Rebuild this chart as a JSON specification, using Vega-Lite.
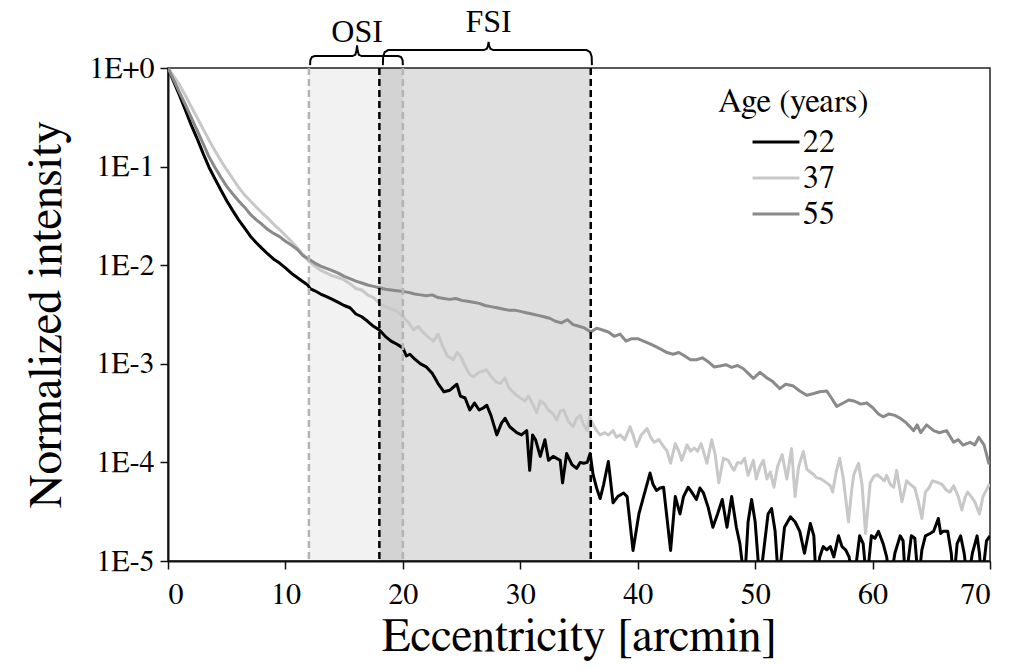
{
"$schema": "https://vega.github.io/schema/vega-lite/v6.json",
"width": 822, "height": 493,
"autosize": "none",
"padding": {"left": 168, "top": 68, "right": 21, "bottom": 108},
"background": "white",
"config": {
  "view": {"stroke": "#222", "strokeWidth": 1.5},
  "axis": {"grid": false, "domainColor": "#111", "domainWidth": 2, "tickColor": "#111", "tickWidth": 1.5, "tickSize": 8,
           "labelColor": "#000", "labelFontSize": 30, "labelFont": "FreeSerif",
           "titleColor": "#000", "titleFontWeight": "normal", "titleFontSize": 47, "titleFont": "FreeSerif"}
},
"datasets": {
  "regions": [
    {"region": "OSI", "start": 12, "end": 20, "mid": 16.1},
    {"region": "FSI", "start": 18, "end": 36, "mid": 27.3}
  ],
  "braces": [
    {"region": "OSI", "ecc": 12.1, "y": 1.07}, {"region": "OSI", "ecc": 12.12, "y": 1.2}, {"region": "OSI", "ecc": 12.25, "y": 1.29}, {"region": "OSI", "ecc": 12.5, "y": 1.32},
    {"region": "OSI", "ecc": 15.7, "y": 1.32}, {"region": "OSI", "ecc": 15.95, "y": 1.36}, {"region": "OSI", "ecc": 16.05, "y": 1.5}, {"region": "OSI", "ecc": 16.1, "y": 1.7},
    {"region": "OSI", "ecc": 16.15, "y": 1.5}, {"region": "OSI", "ecc": 16.25, "y": 1.36}, {"region": "OSI", "ecc": 16.5, "y": 1.32}, {"region": "OSI", "ecc": 19.6, "y": 1.32},
    {"region": "OSI", "ecc": 19.85, "y": 1.29}, {"region": "OSI", "ecc": 19.98, "y": 1.2}, {"region": "OSI", "ecc": 20.0, "y": 1.07},
    {"region": "FSI", "ecc": 18.3, "y": 1.07}, {"region": "FSI", "ecc": 18.32, "y": 1.3}, {"region": "FSI", "ecc": 18.45, "y": 1.45}, {"region": "FSI", "ecc": 18.75, "y": 1.52},
    {"region": "FSI", "ecc": 26.9, "y": 1.52}, {"region": "FSI", "ecc": 27.15, "y": 1.57}, {"region": "FSI", "ecc": 27.25, "y": 1.68}, {"region": "FSI", "ecc": 27.3, "y": 1.84},
    {"region": "FSI", "ecc": 27.35, "y": 1.68}, {"region": "FSI", "ecc": 27.45, "y": 1.57}, {"region": "FSI", "ecc": 27.7, "y": 1.52}, {"region": "FSI", "ecc": 35.65, "y": 1.52},
    {"region": "FSI", "ecc": 35.95, "y": 1.45}, {"region": "FSI", "ecc": 36.08, "y": 1.3}, {"region": "FSI", "ecc": 36.1, "y": 1.07}
  ],
  "curves": [
{"age":"22","ecc":0,"intensity":1},{"age":"22","ecc":0.5,"intensity":0.72},{"age":"22","ecc":1,"intensity":0.52},{"age":"22","ecc":1.5,"intensity":0.37},{"age":"22","ecc":2,"intensity":0.26},{"age":"22","ecc":2.5,"intensity":0.19},{"age":"22","ecc":3,"intensity":0.135},{"age":"22","ecc":3.5,"intensity":0.098},{"age":"22","ecc":4,"intensity":0.075},{"age":"22","ecc":4.5,"intensity":0.058},{"age":"22","ecc":5,"intensity":0.045},{"age":"22","ecc":5.5,"intensity":0.036},{"age":"22","ecc":6,"intensity":0.029},{"age":"22","ecc":6.5,"intensity":0.024},{"age":"22","ecc":7,"intensity":0.0198},{"age":"22","ecc":7.5,"intensity":0.017},{"age":"22","ecc":8,"intensity":0.0148},{"age":"22","ecc":8.5,"intensity":0.013},{"age":"22","ecc":9,"intensity":0.0115},{"age":"22","ecc":9.5,"intensity":0.0105},{"age":"22","ecc":10,"intensity":0.0094},{"age":"22","ecc":10.5,"intensity":0.0083},{"age":"22","ecc":11,"intensity":0.0075},{"age":"22","ecc":11.5,"intensity":0.0068},{"age":"22","ecc":11.9,"intensity":0.0063},{"age":"22","ecc":12.1,"intensity":0.0058},{"age":"22","ecc":12.5,"intensity":0.0055},{"age":"22","ecc":13,"intensity":0.0051},{"age":"22","ecc":13.5,"intensity":0.0048},{"age":"22","ecc":14,"intensity":0.0045},{"age":"22","ecc":14.5,"intensity":0.0042},{"age":"22","ecc":15,"intensity":0.0039},{"age":"22","ecc":15.5,"intensity":0.0037},{"age":"22","ecc":16,"intensity":0.0032},{"age":"22","ecc":16.5,"intensity":0.003},{"age":"22","ecc":17,"intensity":0.0027},{"age":"22","ecc":17.5,"intensity":0.0024},{"age":"22","ecc":18,"intensity":0.0022},{"age":"22","ecc":18.5,"intensity":0.0019},{"age":"22","ecc":19,"intensity":0.0017},{"age":"22","ecc":19.5,"intensity":0.00158},{"age":"22","ecc":20,"intensity":0.00145},{"age":"22","ecc":20.3,"intensity":0.0012},{"age":"22","ecc":20.6,"intensity":0.00125},{"age":"22","ecc":21,"intensity":0.00112},{"age":"22","ecc":21.5,"intensity":0.001},{"age":"22","ecc":22,"intensity":0.00093},{"age":"22","ecc":22.5,"intensity":0.0008},{"age":"22","ecc":23,"intensity":0.00063},{"age":"22","ecc":23.5,"intensity":0.00052},{"age":"22","ecc":24,"intensity":0.00054},{"age":"22","ecc":24.6,"intensity":0.00062},{"age":"22","ecc":24.9,"intensity":0.00047},{"age":"22","ecc":25.3,"intensity":0.00045},{"age":"22","ecc":25.7,"intensity":0.00034},{"age":"22","ecc":26.1,"intensity":0.0004},{"age":"22","ecc":26.5,"intensity":0.00034},{"age":"22","ecc":26.9,"intensity":0.00036},{"age":"22","ecc":27.15,"intensity":0.00038},{"age":"22","ecc":27.5,"intensity":0.0003},{"age":"22","ecc":28,"intensity":0.00019},{"age":"22","ecc":28.4,"intensity":0.00025},{"age":"22","ecc":28.7,"intensity":0.00028},{"age":"22","ecc":29.1,"intensity":0.00023},{"age":"22","ecc":29.7,"intensity":0.0002},{"age":"22","ecc":30.1,"intensity":0.00019},{"age":"22","ecc":30.55,"intensity":0.00021},{"age":"22","ecc":30.8,"intensity":8.3e-5},{"age":"22","ecc":31.05,"intensity":0.00019},{"age":"22","ecc":31.3,"intensity":0.00017},{"age":"22","ecc":31.7,"intensity":0.000115},{"age":"22","ecc":32.1,"intensity":0.00017},{"age":"22","ecc":32.4,"intensity":0.000105},{"age":"22","ecc":32.8,"intensity":0.000115},{"age":"22","ecc":33.1,"intensity":0.00011},{"age":"22","ecc":33.4,"intensity":0.000105},{"age":"22","ecc":33.6,"intensity":6.2e-5},{"age":"22","ecc":33.95,"intensity":0.000123},{"age":"22","ecc":34.4,"intensity":9.5e-5},{"age":"22","ecc":34.8,"intensity":8.7e-5},{"age":"22","ecc":35.1,"intensity":0.0001},{"age":"22","ecc":35.4,"intensity":9.8e-5},{"age":"22","ecc":35.7,"intensity":0.0001},{"age":"22","ecc":35.95,"intensity":0.000123},{"age":"22","ecc":36.2,"intensity":7.5e-5},{"age":"22","ecc":36.5,"intensity":5.5e-5},{"age":"22","ecc":36.8,"intensity":4.3e-5},{"age":"22","ecc":37.1,"intensity":6e-5},{"age":"22","ecc":37.5,"intensity":0.000102},{"age":"22","ecc":37.9,"intensity":3.9e-5},{"age":"22","ecc":38.3,"intensity":4.5e-5},{"age":"22","ecc":38.8,"intensity":4.9e-5},{"age":"22","ecc":39.1,"intensity":4.5e-5},{"age":"22","ecc":39.6,"intensity":1.28e-5},{"age":"22","ecc":40.1,"intensity":3e-5},{"age":"22","ecc":40.5,"intensity":4.5e-5},{"age":"22","ecc":41.05,"intensity":7.8e-5},{"age":"22","ecc":41.3,"intensity":6e-5},{"age":"22","ecc":41.6,"intensity":5.2e-5},{"age":"22","ecc":41.9,"intensity":5.5e-5},{"age":"22","ecc":42.2,"intensity":5.6e-5},{"age":"22","ecc":42.8,"intensity":1.28e-5},{"age":"22","ecc":43.2,"intensity":4.5e-5},{"age":"22","ecc":43.6,"intensity":3e-5},{"age":"22","ecc":43.9,"intensity":4.5e-5},{"age":"22","ecc":44.3,"intensity":5.6e-5},{"age":"22","ecc":44.6,"intensity":5e-5},{"age":"22","ecc":45,"intensity":4.2e-5},{"age":"22","ecc":45.3,"intensity":5.5e-5},{"age":"22","ecc":45.6,"intensity":4.9e-5},{"age":"22","ecc":46,"intensity":3.5e-5},{"age":"22","ecc":46.4,"intensity":2.2e-5},{"age":"22","ecc":46.8,"intensity":3e-5},{"age":"22","ecc":47.2,"intensity":4.2e-5},{"age":"22","ecc":47.6,"intensity":2.2e-5},{"age":"22","ecc":48,"intensity":4.5e-5},{"age":"22","ecc":48.4,"intensity":2.2e-5},{"age":"22","ecc":48.7,"intensity":1.5e-5},{"age":"22","ecc":49.1,"intensity":6e-6},{"age":"22","ecc":49.4,"intensity":2.5e-5},{"age":"22","ecc":49.7,"intensity":4.2e-5},{"age":"22","ecc":50,"intensity":2.5e-5},{"age":"22","ecc":50.4,"intensity":6e-6},{"age":"22","ecc":50.8,"intensity":1.5e-5},{"age":"22","ecc":51.1,"intensity":3e-5},{"age":"22","ecc":51.4,"intensity":3.4e-5},{"age":"22","ecc":51.7,"intensity":2e-5},{"age":"22","ecc":52,"intensity":6e-6},{"age":"22","ecc":52.5,"intensity":2.2e-5},{"age":"22","ecc":53,"intensity":2.8e-5},{"age":"22","ecc":53.4,"intensity":2.5e-5},{"age":"22","ecc":53.8,"intensity":2e-5},{"age":"22","ecc":54.2,"intensity":1.2e-5},{"age":"22","ecc":54.7,"intensity":2.4e-5},{"age":"22","ecc":55,"intensity":1.8e-5},{"age":"22","ecc":55.2,"intensity":6e-6},{"age":"22","ecc":55.5,"intensity":1.1e-5},{"age":"22","ecc":55.8,"intensity":1.4e-5},{"age":"22","ecc":56.1,"intensity":1.3e-5},{"age":"22","ecc":56.4,"intensity":1.4e-5},{"age":"22","ecc":56.7,"intensity":1.1e-5},{"age":"22","ecc":57.1,"intensity":1.8e-5},{"age":"22","ecc":57.4,"intensity":1.4e-5},{"age":"22","ecc":57.7,"intensity":1.3e-5},{"age":"22","ecc":58,"intensity":1.1e-5},{"age":"22","ecc":58.4,"intensity":6e-6},{"age":"22","ecc":58.9,"intensity":1.8e-5},{"age":"22","ecc":59.2,"intensity":1.5e-5},{"age":"22","ecc":59.5,"intensity":6e-6},{"age":"22","ecc":59.9,"intensity":1.8e-5},{"age":"22","ecc":60.2,"intensity":1.7e-5},{"age":"22","ecc":60.5,"intensity":2e-5},{"age":"22","ecc":60.9,"intensity":1.5e-5},{"age":"22","ecc":61.2,"intensity":1.1e-5},{"age":"22","ecc":61.5,"intensity":6e-6},{"age":"22","ecc":61.9,"intensity":1.2e-5},{"age":"22","ecc":62.35,"intensity":1.8e-5},{"age":"22","ecc":62.6,"intensity":1.6e-5},{"age":"22","ecc":62.8,"intensity":6e-6},{"age":"22","ecc":63.3,"intensity":1.8e-5},{"age":"22","ecc":63.6,"intensity":1.7e-5},{"age":"22","ecc":63.9,"intensity":6e-6},{"age":"22","ecc":64.2,"intensity":1.3e-5},{"age":"22","ecc":64.5,"intensity":1.8e-5},{"age":"22","ecc":64.9,"intensity":1.9e-5},{"age":"22","ecc":65.2,"intensity":2e-5},{"age":"22","ecc":65.6,"intensity":2.7e-5},{"age":"22","ecc":65.8,"intensity":1.9e-5},{"age":"22","ecc":66,"intensity":2e-5},{"age":"22","ecc":66.4,"intensity":2e-5},{"age":"22","ecc":66.7,"intensity":1.2e-5},{"age":"22","ecc":66.9,"intensity":6e-6},{"age":"22","ecc":67.2,"intensity":1.5e-5},{"age":"22","ecc":67.5,"intensity":1.8e-5},{"age":"22","ecc":67.8,"intensity":1.2e-5},{"age":"22","ecc":68.1,"intensity":6e-6},{"age":"22","ecc":68.5,"intensity":1.2e-5},{"age":"22","ecc":68.9,"intensity":1.8e-5},{"age":"22","ecc":69.1,"intensity":1.2e-5},{"age":"22","ecc":69.3,"intensity":6e-6},{"age":"22","ecc":69.7,"intensity":1.6e-5},{"age":"22","ecc":70,"intensity":1.8e-5},

{"age":"37","ecc":0,"intensity":1},{"age":"37","ecc":0.5,"intensity":0.82},{"age":"37","ecc":1,"intensity":0.67},{"age":"37","ecc":1.5,"intensity":0.52},{"age":"37","ecc":2,"intensity":0.4},{"age":"37","ecc":2.5,"intensity":0.31},{"age":"37","ecc":3,"intensity":0.24},{"age":"37","ecc":3.5,"intensity":0.185},{"age":"37","ecc":4,"intensity":0.145},{"age":"37","ecc":4.5,"intensity":0.115},{"age":"37","ecc":5,"intensity":0.093},{"age":"37","ecc":5.5,"intensity":0.076},{"age":"37","ecc":6,"intensity":0.062},{"age":"37","ecc":6.5,"intensity":0.052},{"age":"37","ecc":7,"intensity":0.045},{"age":"37","ecc":7.5,"intensity":0.039},{"age":"37","ecc":8,"intensity":0.034},{"age":"37","ecc":8.5,"intensity":0.03},{"age":"37","ecc":9,"intensity":0.026},{"age":"37","ecc":9.5,"intensity":0.023},{"age":"37","ecc":10,"intensity":0.02},{"age":"37","ecc":10.5,"intensity":0.0175},{"age":"37","ecc":11,"intensity":0.015},{"age":"37","ecc":11.5,"intensity":0.0128},{"age":"37","ecc":12,"intensity":0.011},{"age":"37","ecc":12.5,"intensity":0.0098},{"age":"37","ecc":13,"intensity":0.0089},{"age":"37","ecc":13.5,"intensity":0.0083},{"age":"37","ecc":14,"intensity":0.0078},{"age":"37","ecc":14.5,"intensity":0.0075},{"age":"37","ecc":15,"intensity":0.0071},{"age":"37","ecc":15.5,"intensity":0.0065},{"age":"37","ecc":16,"intensity":0.0058},{"age":"37","ecc":16.5,"intensity":0.0056},{"age":"37","ecc":17,"intensity":0.005},{"age":"37","ecc":17.5,"intensity":0.0047},{"age":"37","ecc":18,"intensity":0.0041},{"age":"37","ecc":18.5,"intensity":0.0038},{"age":"37","ecc":19,"intensity":0.0036},{"age":"37","ecc":19.5,"intensity":0.0034},{"age":"37","ecc":20,"intensity":0.003},{"age":"37","ecc":20.5,"intensity":0.0026},{"age":"37","ecc":20.9,"intensity":0.0022},{"age":"37","ecc":21.3,"intensity":0.0024},{"age":"37","ecc":21.7,"intensity":0.0021},{"age":"37","ecc":22.1,"intensity":0.0019},{"age":"37","ecc":22.6,"intensity":0.0017},{"age":"37","ecc":23,"intensity":0.002},{"age":"37","ecc":23.4,"intensity":0.0015},{"age":"37","ecc":23.8,"intensity":0.0012},{"age":"37","ecc":24.3,"intensity":0.0011},{"age":"37","ecc":24.6,"intensity":0.0013},{"age":"37","ecc":24.9,"intensity":0.0012},{"age":"37","ecc":25.3,"intensity":0.00095},{"age":"37","ecc":25.7,"intensity":0.00078},{"age":"37","ecc":26,"intensity":0.00074},{"age":"37","ecc":26.5,"intensity":0.00082},{"age":"37","ecc":27.1,"intensity":0.00087},{"age":"37","ecc":27.5,"intensity":0.00075},{"age":"37","ecc":27.9,"intensity":0.00066},{"age":"37","ecc":28.3,"intensity":0.00063},{"age":"37","ecc":28.7,"intensity":0.00072},{"age":"37","ecc":29,"intensity":0.00058},{"age":"37","ecc":29.5,"intensity":0.0005},{"age":"37","ecc":30,"intensity":0.00045},{"age":"37","ecc":30.4,"intensity":0.00042},{"age":"37","ecc":30.7,"intensity":0.00047},{"age":"37","ecc":31.1,"intensity":0.00038},{"age":"37","ecc":31.4,"intensity":0.00032},{"age":"37","ecc":31.7,"intensity":0.00042},{"age":"37","ecc":32,"intensity":0.0004},{"age":"37","ecc":32.4,"intensity":0.00034},{"age":"37","ecc":32.8,"intensity":0.00031},{"age":"37","ecc":33.1,"intensity":0.00027},{"age":"37","ecc":33.4,"intensity":0.00033},{"age":"37","ecc":33.7,"intensity":0.00034},{"age":"37","ecc":34.1,"intensity":0.00026},{"age":"37","ecc":34.5,"intensity":0.00023},{"age":"37","ecc":34.8,"intensity":0.00028},{"age":"37","ecc":35.1,"intensity":0.0003},{"age":"37","ecc":35.4,"intensity":0.00024},{"age":"37","ecc":35.7,"intensity":0.00021},{"age":"37","ecc":35.9,"intensity":0.00029},{"age":"37","ecc":36.2,"intensity":0.00024},{"age":"37","ecc":36.5,"intensity":0.00021},{"age":"37","ecc":36.8,"intensity":0.00019},{"age":"37","ecc":37.2,"intensity":0.0002},{"age":"37","ecc":37.5,"intensity":0.00019},{"age":"37","ecc":37.9,"intensity":0.00021},{"age":"37","ecc":38.2,"intensity":0.00018},{"age":"37","ecc":38.5,"intensity":0.00019},{"age":"37","ecc":38.9,"intensity":0.00017},{"age":"37","ecc":39.35,"intensity":0.00023},{"age":"37","ecc":39.6,"intensity":0.00019},{"age":"37","ecc":39.9,"intensity":0.000145},{"age":"37","ecc":40.3,"intensity":0.00019},{"age":"37","ecc":40.8,"intensity":0.00022},{"age":"37","ecc":41.1,"intensity":0.00018},{"age":"37","ecc":41.4,"intensity":0.00016},{"age":"37","ecc":41.8,"intensity":0.00017},{"age":"37","ecc":42.2,"intensity":0.000145},{"age":"37","ecc":42.5,"intensity":0.00013},{"age":"37","ecc":42.8,"intensity":9.8e-5},{"age":"37","ecc":43.2,"intensity":0.000155},{"age":"37","ecc":43.5,"intensity":0.00013},{"age":"37","ecc":43.75,"intensity":0.000105},{"age":"37","ecc":44.2,"intensity":0.00015},{"age":"37","ecc":44.5,"intensity":0.00013},{"age":"37","ecc":44.8,"intensity":0.00014},{"age":"37","ecc":45.1,"intensity":0.00013},{"age":"37","ecc":45.4,"intensity":0.000155},{"age":"37","ecc":45.9,"intensity":9.8e-5},{"age":"37","ecc":46.3,"intensity":0.00017},{"age":"37","ecc":46.6,"intensity":0.00012},{"age":"37","ecc":46.9,"intensity":6.2e-5},{"age":"37","ecc":47.3,"intensity":0.00011},{"age":"37","ecc":47.7,"intensity":0.000105},{"age":"37","ecc":48,"intensity":9e-5},{"age":"37","ecc":48.2,"intensity":8.3e-5},{"age":"37","ecc":48.5,"intensity":0.0001},{"age":"37","ecc":48.8,"intensity":9.8e-5},{"age":"37","ecc":49.1,"intensity":0.00011},{"age":"37","ecc":49.4,"intensity":7.4e-5},{"age":"37","ecc":49.85,"intensity":0.000105},{"age":"37","ecc":50.1,"intensity":6.8e-5},{"age":"37","ecc":50.4,"intensity":9e-5},{"age":"37","ecc":50.7,"intensity":0.000105},{"age":"37","ecc":51,"intensity":6.8e-5},{"age":"37","ecc":51.3,"intensity":8e-5},{"age":"37","ecc":51.6,"intensity":5.6e-5},{"age":"37","ecc":51.9,"intensity":9e-5},{"age":"37","ecc":52.3,"intensity":0.00012},{"age":"37","ecc":52.7,"intensity":6.8e-5},{"age":"37","ecc":53.1,"intensity":0.000138},{"age":"37","ecc":53.4,"intensity":4.5e-5},{"age":"37","ecc":53.7,"intensity":9e-5},{"age":"37","ecc":54.1,"intensity":0.000129},{"age":"37","ecc":54.4,"intensity":8.5e-5},{"age":"37","ecc":54.7,"intensity":8e-5},{"age":"37","ecc":55,"intensity":7.5e-5},{"age":"37","ecc":55.2,"intensity":7e-5},{"age":"37","ecc":55.6,"intensity":6.8e-5},{"age":"37","ecc":56.1,"intensity":6.2e-5},{"age":"37","ecc":56.4,"intensity":5.8e-5},{"age":"37","ecc":56.6,"intensity":5e-5},{"age":"37","ecc":56.9,"intensity":8e-5},{"age":"37","ecc":57.2,"intensity":0.00011},{"age":"37","ecc":57.5,"intensity":7e-5},{"age":"37","ecc":57.95,"intensity":2.5e-5},{"age":"37","ecc":58.2,"intensity":5e-5},{"age":"37","ecc":58.4,"intensity":7.5e-5},{"age":"37","ecc":58.8,"intensity":9.8e-5},{"age":"37","ecc":59.1,"intensity":6e-5},{"age":"37","ecc":59.4,"intensity":1.9e-5},{"age":"37","ecc":59.8,"intensity":6.2e-5},{"age":"37","ecc":60.1,"intensity":7.2e-5},{"age":"37","ecc":60.4,"intensity":7.5e-5},{"age":"37","ecc":60.7,"intensity":7e-5},{"age":"37","ecc":61,"intensity":6.5e-5},{"age":"37","ecc":61.2,"intensity":7.4e-5},{"age":"37","ecc":61.5,"intensity":6e-5},{"age":"37","ecc":61.8,"intensity":5.6e-5},{"age":"37","ecc":62.05,"intensity":8.3e-5},{"age":"37","ecc":62.5,"intensity":4e-5},{"age":"37","ecc":62.9,"intensity":6.5e-5},{"age":"37","ecc":63.2,"intensity":6e-5},{"age":"37","ecc":63.6,"intensity":5.5e-5},{"age":"37","ecc":63.9,"intensity":4e-5},{"age":"37","ecc":64.2,"intensity":2.7e-5},{"age":"37","ecc":64.5,"intensity":5e-5},{"age":"37","ecc":64.8,"intensity":5.5e-5},{"age":"37","ecc":65.1,"intensity":6.5e-5},{"age":"37","ecc":65.5,"intensity":6.3e-5},{"age":"37","ecc":65.9,"intensity":6e-5},{"age":"37","ecc":66.3,"intensity":5.2e-5},{"age":"37","ecc":66.6,"intensity":5e-5},{"age":"37","ecc":66.9,"intensity":5.8e-5},{"age":"37","ecc":67.3,"intensity":4.5e-5},{"age":"37","ecc":67.6,"intensity":3.3e-5},{"age":"37","ecc":67.9,"intensity":4.5e-5},{"age":"37","ecc":68.1,"intensity":5e-5},{"age":"37","ecc":68.4,"intensity":4.5e-5},{"age":"37","ecc":68.7,"intensity":4e-5},{"age":"37","ecc":69.1,"intensity":3e-5},{"age":"37","ecc":69.4,"intensity":4.5e-5},{"age":"37","ecc":69.6,"intensity":5e-5},{"age":"37","ecc":69.9,"intensity":5.9e-5},{"age":"37","ecc":70,"intensity":5.7e-5},

{"age":"55","ecc":0,"intensity":1},{"age":"55","ecc":0.5,"intensity":0.75},{"age":"55","ecc":1,"intensity":0.56},{"age":"55","ecc":1.5,"intensity":0.42},{"age":"55","ecc":2,"intensity":0.31},{"age":"55","ecc":2.5,"intensity":0.23},{"age":"55","ecc":3,"intensity":0.17},{"age":"55","ecc":3.5,"intensity":0.125},{"age":"55","ecc":4,"intensity":0.098},{"age":"55","ecc":4.5,"intensity":0.078},{"age":"55","ecc":5,"intensity":0.063},{"age":"55","ecc":5.5,"intensity":0.053},{"age":"55","ecc":6,"intensity":0.045},{"age":"55","ecc":6.5,"intensity":0.039},{"age":"55","ecc":7,"intensity":0.033},{"age":"55","ecc":7.5,"intensity":0.029},{"age":"55","ecc":8,"intensity":0.026},{"age":"55","ecc":8.5,"intensity":0.023},{"age":"55","ecc":9,"intensity":0.021},{"age":"55","ecc":9.5,"intensity":0.0195},{"age":"55","ecc":10,"intensity":0.0175},{"age":"55","ecc":10.5,"intensity":0.016},{"age":"55","ecc":11,"intensity":0.0145},{"age":"55","ecc":11.5,"intensity":0.0125},{"age":"55","ecc":12,"intensity":0.0115},{"age":"55","ecc":12.5,"intensity":0.0105},{"age":"55","ecc":13,"intensity":0.0098},{"age":"55","ecc":13.5,"intensity":0.0093},{"age":"55","ecc":14,"intensity":0.0088},{"age":"55","ecc":14.5,"intensity":0.0083},{"age":"55","ecc":15,"intensity":0.0077},{"age":"55","ecc":15.5,"intensity":0.0073},{"age":"55","ecc":16,"intensity":0.0069},{"age":"55","ecc":16.5,"intensity":0.0066},{"age":"55","ecc":17,"intensity":0.0063},{"age":"55","ecc":17.5,"intensity":0.0061},{"age":"55","ecc":18,"intensity":0.0059},{"age":"55","ecc":18.5,"intensity":0.0057},{"age":"55","ecc":19,"intensity":0.0056},{"age":"55","ecc":19.5,"intensity":0.0055},{"age":"55","ecc":20,"intensity":0.0054},{"age":"55","ecc":20.5,"intensity":0.0053},{"age":"55","ecc":21,"intensity":0.0051},{"age":"55","ecc":21.5,"intensity":0.005},{"age":"55","ecc":22,"intensity":0.0049},{"age":"55","ecc":22.5,"intensity":0.005},{"age":"55","ecc":23,"intensity":0.0047},{"age":"55","ecc":23.5,"intensity":0.0046},{"age":"55","ecc":24,"intensity":0.0045},{"age":"55","ecc":24.5,"intensity":0.0046},{"age":"55","ecc":25,"intensity":0.0044},{"age":"55","ecc":25.5,"intensity":0.0043},{"age":"55","ecc":26,"intensity":0.0042},{"age":"55","ecc":26.5,"intensity":0.0041},{"age":"55","ecc":27,"intensity":0.0039},{"age":"55","ecc":27.5,"intensity":0.0038},{"age":"55","ecc":28,"intensity":0.0037},{"age":"55","ecc":28.5,"intensity":0.0036},{"age":"55","ecc":29,"intensity":0.0035},{"age":"55","ecc":29.5,"intensity":0.0035},{"age":"55","ecc":30,"intensity":0.0034},{"age":"55","ecc":30.5,"intensity":0.0033},{"age":"55","ecc":31,"intensity":0.0032},{"age":"55","ecc":31.5,"intensity":0.0031},{"age":"55","ecc":32,"intensity":0.003},{"age":"55","ecc":32.5,"intensity":0.0029},{"age":"55","ecc":33,"intensity":0.0027},{"age":"55","ecc":33.5,"intensity":0.0026},{"age":"55","ecc":34,"intensity":0.0028},{"age":"55","ecc":34.5,"intensity":0.0025},{"age":"55","ecc":35,"intensity":0.0024},{"age":"55","ecc":35.5,"intensity":0.0023},{"age":"55","ecc":36,"intensity":0.0021},{"age":"55","ecc":36.5,"intensity":0.0023},{"age":"55","ecc":37,"intensity":0.0022},{"age":"55","ecc":37.5,"intensity":0.0021},{"age":"55","ecc":38,"intensity":0.0019},{"age":"55","ecc":38.5,"intensity":0.002},{"age":"55","ecc":39,"intensity":0.0017},{"age":"55","ecc":39.5,"intensity":0.0018},{"age":"55","ecc":40,"intensity":0.0018},{"age":"55","ecc":40.5,"intensity":0.0017},{"age":"55","ecc":41,"intensity":0.0016},{"age":"55","ecc":41.5,"intensity":0.0015},{"age":"55","ecc":42,"intensity":0.0014},{"age":"55","ecc":42.5,"intensity":0.0013},{"age":"55","ecc":43,"intensity":0.00125},{"age":"55","ecc":43.5,"intensity":0.0013},{"age":"55","ecc":44,"intensity":0.0012},{"age":"55","ecc":44.5,"intensity":0.0011},{"age":"55","ecc":45,"intensity":0.0011},{"age":"55","ecc":45.5,"intensity":0.00115},{"age":"55","ecc":46,"intensity":0.00105},{"age":"55","ecc":46.5,"intensity":0.00093},{"age":"55","ecc":47,"intensity":0.00095},{"age":"55","ecc":47.5,"intensity":0.00098},{"age":"55","ecc":48,"intensity":0.00092},{"age":"55","ecc":48.5,"intensity":0.00096},{"age":"55","ecc":49,"intensity":0.00089},{"age":"55","ecc":49.5,"intensity":0.00078},{"age":"55","ecc":49.85,"intensity":0.00071},{"age":"55","ecc":50.4,"intensity":0.00082},{"age":"55","ecc":51,"intensity":0.00072},{"age":"55","ecc":51.5,"intensity":0.00066},{"age":"55","ecc":52.1,"intensity":0.00056},{"age":"55","ecc":52.6,"intensity":0.00062},{"age":"55","ecc":53.2,"intensity":0.0006},{"age":"55","ecc":53.8,"intensity":0.00053},{"age":"55","ecc":54.4,"intensity":0.00048},{"age":"55","ecc":55,"intensity":0.0005},{"age":"55","ecc":55.5,"intensity":0.00052},{"age":"55","ecc":56.1,"intensity":0.00053},{"age":"55","ecc":56.5,"intensity":0.00045},{"age":"55","ecc":56.95,"intensity":0.00037},{"age":"55","ecc":57.5,"intensity":0.0004},{"age":"55","ecc":58,"intensity":0.00043},{"age":"55","ecc":58.4,"intensity":0.00042},{"age":"55","ecc":59,"intensity":0.00039},{"age":"55","ecc":59.5,"intensity":0.0004},{"age":"55","ecc":60,"intensity":0.00036},{"age":"55","ecc":60.5,"intensity":0.00031},{"age":"55","ecc":60.9,"intensity":0.00029},{"age":"55","ecc":61.4,"intensity":0.00031},{"age":"55","ecc":61.9,"intensity":0.0003},{"age":"55","ecc":62.35,"intensity":0.00028},{"age":"55","ecc":62.9,"intensity":0.00025},{"age":"55","ecc":63.5,"intensity":0.00021},{"age":"55","ecc":63.8,"intensity":0.00024},{"age":"55","ecc":64.1,"intensity":0.0002},{"age":"55","ecc":64.6,"intensity":0.00024},{"age":"55","ecc":65.2,"intensity":0.00021},{"age":"55","ecc":65.7,"intensity":0.0002},{"age":"55","ecc":66.3,"intensity":0.00021},{"age":"55","ecc":66.9,"intensity":0.00016},{"age":"55","ecc":67.3,"intensity":0.00017},{"age":"55","ecc":67.7,"intensity":0.00015},{"age":"55","ecc":68.3,"intensity":0.00016},{"age":"55","ecc":68.7,"intensity":0.00015},{"age":"55","ecc":69.05,"intensity":0.00018},{"age":"55","ecc":69.5,"intensity":0.00015},{"age":"55","ecc":69.9,"intensity":9.8e-5},{"age":"55","ecc":70,"intensity":0.0001}
  ]
},
"layer": [
  {
    "data": {"name": "regions"},
    "mark": {"type": "rect"},
    "encoding": {
      "x": {"field": "start", "type": "quantitative", "scale": {"domain": [0, 70], "nice": false},
            "axis": {"values": [0,10,20,30,40,50,60,70], "labelPadding": 10, "labelFont": "FreeSerif", "titleFont": "FreeSerif", "title": "Eccentricity [arcmin]", "titlePadding": 4}},
      "x2": {"field": "end"},
      "y": {"datum": 1, "type": "quantitative", "scale": {"type": "log", "domain": [0.00001, 1], "nice": false},
            "axis": {"values": [1, 0.1, 0.01, 0.001, 0.0001, 0.00001], "labelExpr": "'1E' + (datum.value >= 1 ? '+0' : round(log(datum.value)/LN10))", "labelPadding": 6, "labelFont": "FreeSerif", "titleFont": "FreeSerif", "title": "Normalized intensity", "titlePadding": 18}},
      "y2": {"datum": 0.00001},
      "fill": {"value": "#000"},
      "fillOpacity": {"field": "region", "type": "nominal", "scale": {"domain": ["OSI", "FSI"], "range": [0.05, 0.125]}, "legend": null}
    }
  },
  {
    "data": {"name": "curves"},
    "mark": {"type": "line", "strokeWidth": 3, "clip": true, "strokeJoin": "round"},
    "encoding": {
      "x": {"field": "ecc", "type": "quantitative"},
      "y": {"field": "intensity", "type": "quantitative"},
      "color": {"field": "age", "type": "nominal",
                "scale": {"domain": ["22", "37", "55"], "range": ["#000000", "#c8c8c8", "#8a8a8a"]},
                "legend": {"orient": "none", "legendX": 550, "legendY": 18, "title": "Age (years)",
                           "titleFont": "FreeSerif", "titleFontSize": 33, "titleFontWeight": "normal", "titleColor": "#000", "titlePadding": 5,
                           "labelFont": "FreeSerif", "labelFontSize": 32, "labelColor": "#000", "labelOffset": 2,
                           "symbolType": "stroke", "symbolSize": 2200, "symbolStrokeWidth": 3, "symbolOffset": 33, "rowPadding": 0, "clipHeight": 36}}
    }
  },
  {
    "data": {"name": "regions"},
    "mark": {"type": "rule", "strokeWidth": 2.5, "strokeDash": [7, 4]},
    "encoding": {
      "x": {"field": "start", "type": "quantitative"},
      "y": {"datum": 1, "type": "quantitative"},
      "y2": {"datum": 0.00001},
      "stroke": {"field": "region", "type": "nominal", "scale": {"domain": ["OSI", "FSI"], "range": ["#b4b4b4", "#000000"]}, "legend": null}
    }
  },
  {
    "data": {"name": "regions"},
    "mark": {"type": "rule", "strokeWidth": 2.5, "strokeDash": [7, 4]},
    "encoding": {
      "x": {"field": "end", "type": "quantitative"},
      "y": {"datum": 1, "type": "quantitative"},
      "y2": {"datum": 0.00001},
      "stroke": {"field": "region", "type": "nominal", "scale": {"domain": ["OSI", "FSI"], "range": ["#b4b4b4", "#000000"]}, "legend": null}
    }
  },
  {
    "data": {"name": "braces"},
    "mark": {"type": "line", "strokeWidth": 2, "clip": false, "color": "#000"},
    "encoding": {
      "x": {"field": "ecc", "type": "quantitative"},
      "y": {"field": "y", "type": "quantitative"},
      "detail": {"field": "region", "type": "nominal"},
      "order": {"field": "ecc", "type": "quantitative"}
    }
  },
  {
    "data": {"name": "regions"},
    "transform": [{"filter": "datum.region === 'OSI'"}],
    "mark": {"type": "text", "font": "Liberation Serif", "fontSize": 32, "baseline": "alphabetic", "align": "center", "color": "#000", "clip": false},
    "encoding": {
      "x": {"field": "mid", "type": "quantitative"},
      "y": {"datum": 1.84, "type": "quantitative"},
      "text": {"field": "region"}
    }
  },
  {
    "data": {"name": "regions"},
    "transform": [{"filter": "datum.region === 'FSI'"}],
    "mark": {"type": "text", "font": "Liberation Serif", "fontSize": 32, "baseline": "alphabetic", "align": "center", "color": "#000", "clip": false},
    "encoding": {
      "x": {"field": "mid", "type": "quantitative"},
      "y": {"datum": 2.32, "type": "quantitative"},
      "text": {"field": "region"}
    }
  }
]
}
